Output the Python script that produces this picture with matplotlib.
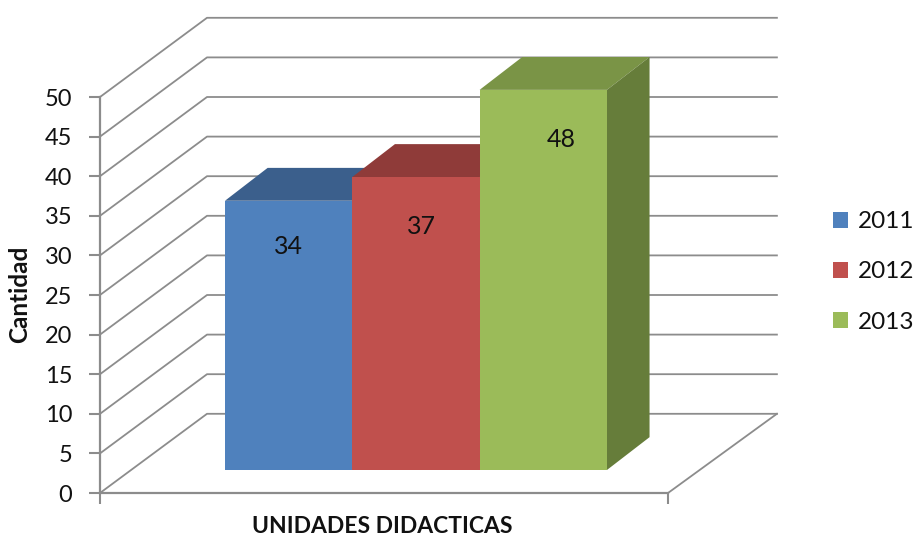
import matplotlib
matplotlib.use('Agg')
import matplotlib.pyplot as plt
from matplotlib.patches import Polygon, Patch

years = ['2011', '2012', '2013']
values = [34, 37, 48]
front_colors = ['#4F81BD', '#C0504D', '#9BBB59']
top_colors = ['#3B5F8C', '#8F3B39', '#7A9446']
side_colors = ['#3A5F8B', '#8E3A38', '#667D3A']
ticks = list(range(0, 55, 5))

plt.rcParams['font.family'] = ['Lato', 'DejaVu Sans']
line_color = '#8C8C8C'

fig = plt.figure(figsize=(9.15, 5.38), dpi=100)
ax = fig.add_axes([100 / 915, 1 - 493 / 538, 568 / 915, 396 / 538])

# one bar is 1 wide on x, y is in chart units
floor_w = 568 / 127.3
depth_x = 107 / 127.3
depth_y = 10
ax.set_xlim(0, floor_w)
ax.set_ylim(0, 50)

# walls and grid
for v in ticks:
    ax.plot([0, depth_x, floor_w + depth_x + 0.015], [v, v + depth_y, v + depth_y],
            color=line_color, lw=1.3, clip_on=False, zorder=1)
ax.plot([floor_w, floor_w + depth_x + 0.015], [0, depth_y], color=line_color, lw=1.3, clip_on=False, zorder=1)

# bars
bar_x0 = 125 / 127.3
bar_w = 1.0
base = 2.9
bar_dx = 0.335
bar_dy = 4.15
label_dx = [0, 0.04, 0.14]
label_dy = [5.8, 6.3, 6.3]
for i, val in enumerate(values):
    x0 = bar_x0 + i * bar_w
    x1 = x0 + bar_w
    top = base + val
    ax.add_patch(Polygon([(x0, top), (x0 + bar_dx, top + bar_dy), (x1 + bar_dx, top + bar_dy), (x1, top)],
                         closed=True, fc=top_colors[i], ec='none', clip_on=False, zorder=2 + i))
    ax.add_patch(Polygon([(x1, base), (x1 + bar_dx, base + bar_dy), (x1 + bar_dx, top + bar_dy), (x1, top)],
                         closed=True, fc=side_colors[i], ec='none', clip_on=False, zorder=2 + i))
    ax.bar(x0, val, width=bar_w, bottom=base, align='edge', color=front_colors[i], zorder=2.5 + i, clip_on=False)
    ax.text(x0 + bar_w / 2 + label_dx[i], base + val - label_dy[i], str(val), ha='center', va='center',
            fontsize=18, color='#111111', zorder=8)

# axes
for s in ['top', 'right']:
    ax.spines[s].set_visible(False)
ax.spines['left'].set_color(line_color)
ax.spines['bottom'].set_color(line_color)
ax.spines['left'].set_linewidth(1.6)
ax.spines['bottom'].set_linewidth(1.6)
ax.set_yticks(ticks)
ax.set_xticks([0, floor_w])
ax.set_xticklabels([])
ax.tick_params(axis='both', color=line_color, length=8, width=1.5, labelsize=17, labelcolor='#111111', pad=12)
ax.patch.set_alpha(0)

fig.text(20 / 915, 1 - 294 / 538, 'Cantidad', rotation=90, ha='center', va='center',
         fontsize=17.5, fontweight='bold', color='#111111')
fig.text(382 / 915, 1 - 537 / 538, 'UNIDADES DIDACTICAS', ha='center', va='bottom',
         fontsize=16.5, fontweight='bold', color='#111111')

handles = [Patch(fc=c, ec='none') for c in front_colors]
fig.legend(handles, years, loc='center left', bbox_to_anchor=(833 / 915, 1 - 272 / 538), frameon=False,
           fontsize=17.5, handlelength=0.62, handleheight=0.62, handletextpad=0.42, labelspacing=1.2,
           borderpad=0, borderaxespad=0, labelcolor='#111111')

fig.savefig('out.png', dpi=100)
